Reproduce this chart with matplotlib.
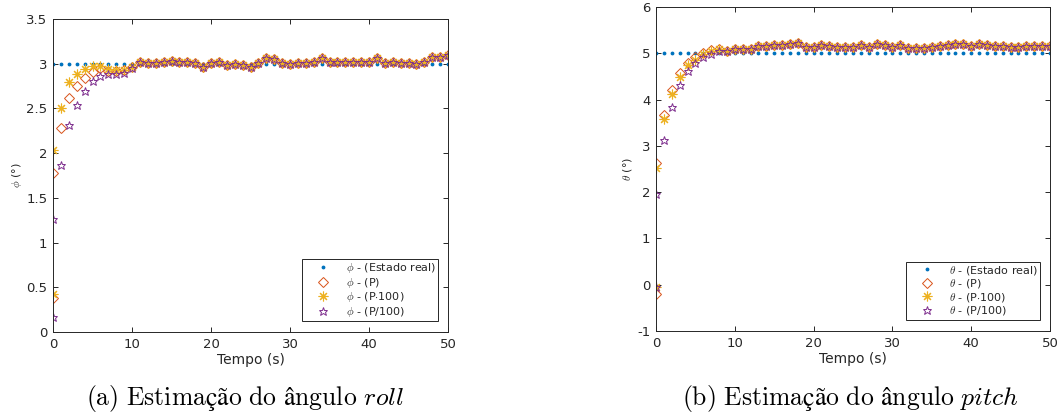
import numpy as np
import matplotlib
matplotlib.use("Agg")
import matplotlib.pyplot as plt
from matplotlib.ticker import FormatStrFormatter

plt.rcParams["font.family"] = "DejaVu Sans"
plt.rcParams["mathtext.fontset"] = "cm"
plt.rcParams["axes.unicode_minus"] = False

#%% dados
# two samples at t = 0, then one per second
tempo = [0, 0] + list(range(1, 51))
tempo_real = list(range(0, 51))

roll_real = 3.0
pitch_real = 5.0

# roll (phi) - transient part (t=0, t=0, t=1..10)
roll_p_ini = [0.38, 1.78, 2.28, 2.62, 2.75, 2.84, 2.91, 2.95, 2.92, 2.92, 2.93, 2.96]
roll_p100_ini = [0.43, 2.03, 2.50, 2.79, 2.88, 2.94, 2.98, 2.98, 2.94, 2.93, 2.93, 2.96]
roll_pdiv_ini = [0.17, 1.26, 1.87, 2.31, 2.54, 2.69, 2.81, 2.86, 2.88, 2.88, 2.90, 2.95]
# roll - converged part (t=11..50)
roll_fim = [3.02, 3.01, 3.01, 3.02, 3.03, 3.02, 3.02, 3.01, 2.96, 3.01,
            3.02, 2.99, 3.00, 2.99, 2.96, 3.01, 3.06, 3.05, 3.01, 3.00,
            3.01, 3.01, 3.02, 3.06, 3.02, 3.02, 3.02, 3.02, 3.02, 3.02,
            3.06, 3.01, 3.02, 3.01, 3.01, 3.00, 3.02, 3.08, 3.07, 3.10]

# pitch (theta) - transient part
pitch_p_ini = [-0.21, 2.63, 3.66, 4.20, 4.58, 4.79, 4.91, 5.01, 5.08, 5.10, 5.06, 5.09]
pitch_p100_ini = [-0.05, 2.52, 3.57, 4.11, 4.48, 4.74, 4.86, 4.98, 5.06, 5.09, 5.06, 5.09]
pitch_pdiv_ini = [-0.04, 1.97, 3.12, 3.83, 4.31, 4.61, 4.78, 4.91, 4.99, 5.06, 5.06, 5.09]
# pitch - converged part
pitch_fim = [5.09, 5.10, 5.16, 5.16, 5.17, 5.17, 5.21, 5.22, 5.14, 5.14,
             5.17, 5.16, 5.14, 5.14, 5.14, 5.17, 5.14, 5.19, 5.17, 5.13,
             5.18, 5.11, 5.11, 5.11, 5.14, 5.16, 5.17, 5.21, 5.21, 5.16,
             5.19, 5.18, 5.16, 5.16, 5.14, 5.14, 5.16, 5.16, 5.16, 5.16]

legenda_a = "(a) Estimação do ângulo"
legenda_b = "(b) Estimação do ângulo"

#%% estilo
c_real = "#0072BD"
c_p = "#D95319"
c_p100 = "#EDB120"
c_pdiv = "#7E2F8E"
c_eixo = "#262626"


def plot_angulo(ax, real, p, p100, pdiv, sym, ylim, yticks):
    ax.plot(tempo_real, [real] * len(tempo_real), ".", color=c_real, markersize=3.5,
            label=sym + " - (Estado real)")
    ax.plot(tempo, p, "D", markersize=4.8, markerfacecolor="none", markeredgecolor=c_p,
            markeredgewidth=0.7, linestyle="none", label=sym + " - (P)")
    ax.plot(tempo, p100, marker=(8, 2, 0), markersize=7, color=c_p100, markeredgewidth=0.8,
            linestyle="none", label=sym + " - (P$\\cdot$100)")
    ax.plot(tempo, pdiv, "*", markersize=6.3, markerfacecolor="none", markeredgecolor=c_pdiv,
            markeredgewidth=0.7, linestyle="none", label=sym + " - (P/100)")
    ax.set_xlim(0, 50)
    ax.set_ylim(*ylim)
    ax.set_xticks(range(0, 51, 10))
    ax.set_yticks(yticks)
    ax.yaxis.set_major_formatter(FormatStrFormatter("%g"))
    ax.tick_params(direction="in", top=True, right=True, length=3.5, width=0.7,
                   labelsize=9.5, colors=c_eixo, pad=4)
    for s in ax.spines.values():
        s.set_color(c_eixo)
        s.set_linewidth(0.7)
    ax.set_xlabel("Tempo (s)", fontsize=10, color=c_eixo, labelpad=2)
    ax.set_ylabel(sym + " (°)", fontsize=8, color=c_eixo, labelpad=2)
    leg = ax.legend(loc="lower right", bbox_to_anchor=(0.975, 0.035), fontsize=8,
                    fancybox=False, edgecolor=c_eixo, framealpha=1, handlelength=3.4,
                    handletextpad=0.3, borderpad=0.2, labelspacing=0.05, borderaxespad=0)
    leg.get_frame().set_linewidth(0.7)
    for t in leg.get_texts():
        t.set_color(c_eixo)


#%% figura
fig = plt.figure(figsize=(10.61, 4.2), dpi=100)
ax1 = fig.add_axes([53 / 1061, 88 / 420, 395 / 1061, 313 / 420])
ax2 = fig.add_axes([656 / 1061, 89 / 420, 394 / 1061, 324 / 420])

plot_angulo(ax1, roll_real, roll_p_ini + roll_fim, roll_p100_ini + roll_fim,
            roll_pdiv_ini + roll_fim, "$\\phi$", (0, 3.5), np.arange(0, 3.51, 0.5))
plot_angulo(ax2, pitch_real, pitch_p_ini + pitch_fim, pitch_p100_ini + pitch_fim,
            pitch_pdiv_ini + pitch_fim, "$\\theta$", (-1, 6), range(-1, 7))


def cap(txt, it):
    return "$\\mathrm{" + txt.replace(" ", "\\ ") + "}\\ \\mathit{" + it + "}$"


fig.text(245 / 1061, 1 - 398 / 420, cap(legenda_a, "roll"),
         ha="center", va="center", fontsize=18.5)
fig.text(851 / 1061, 1 - 398 / 420, cap(legenda_b, "pitch"),
         ha="center", va="center", fontsize=18.5)

fig.savefig("out.png", dpi=100)
